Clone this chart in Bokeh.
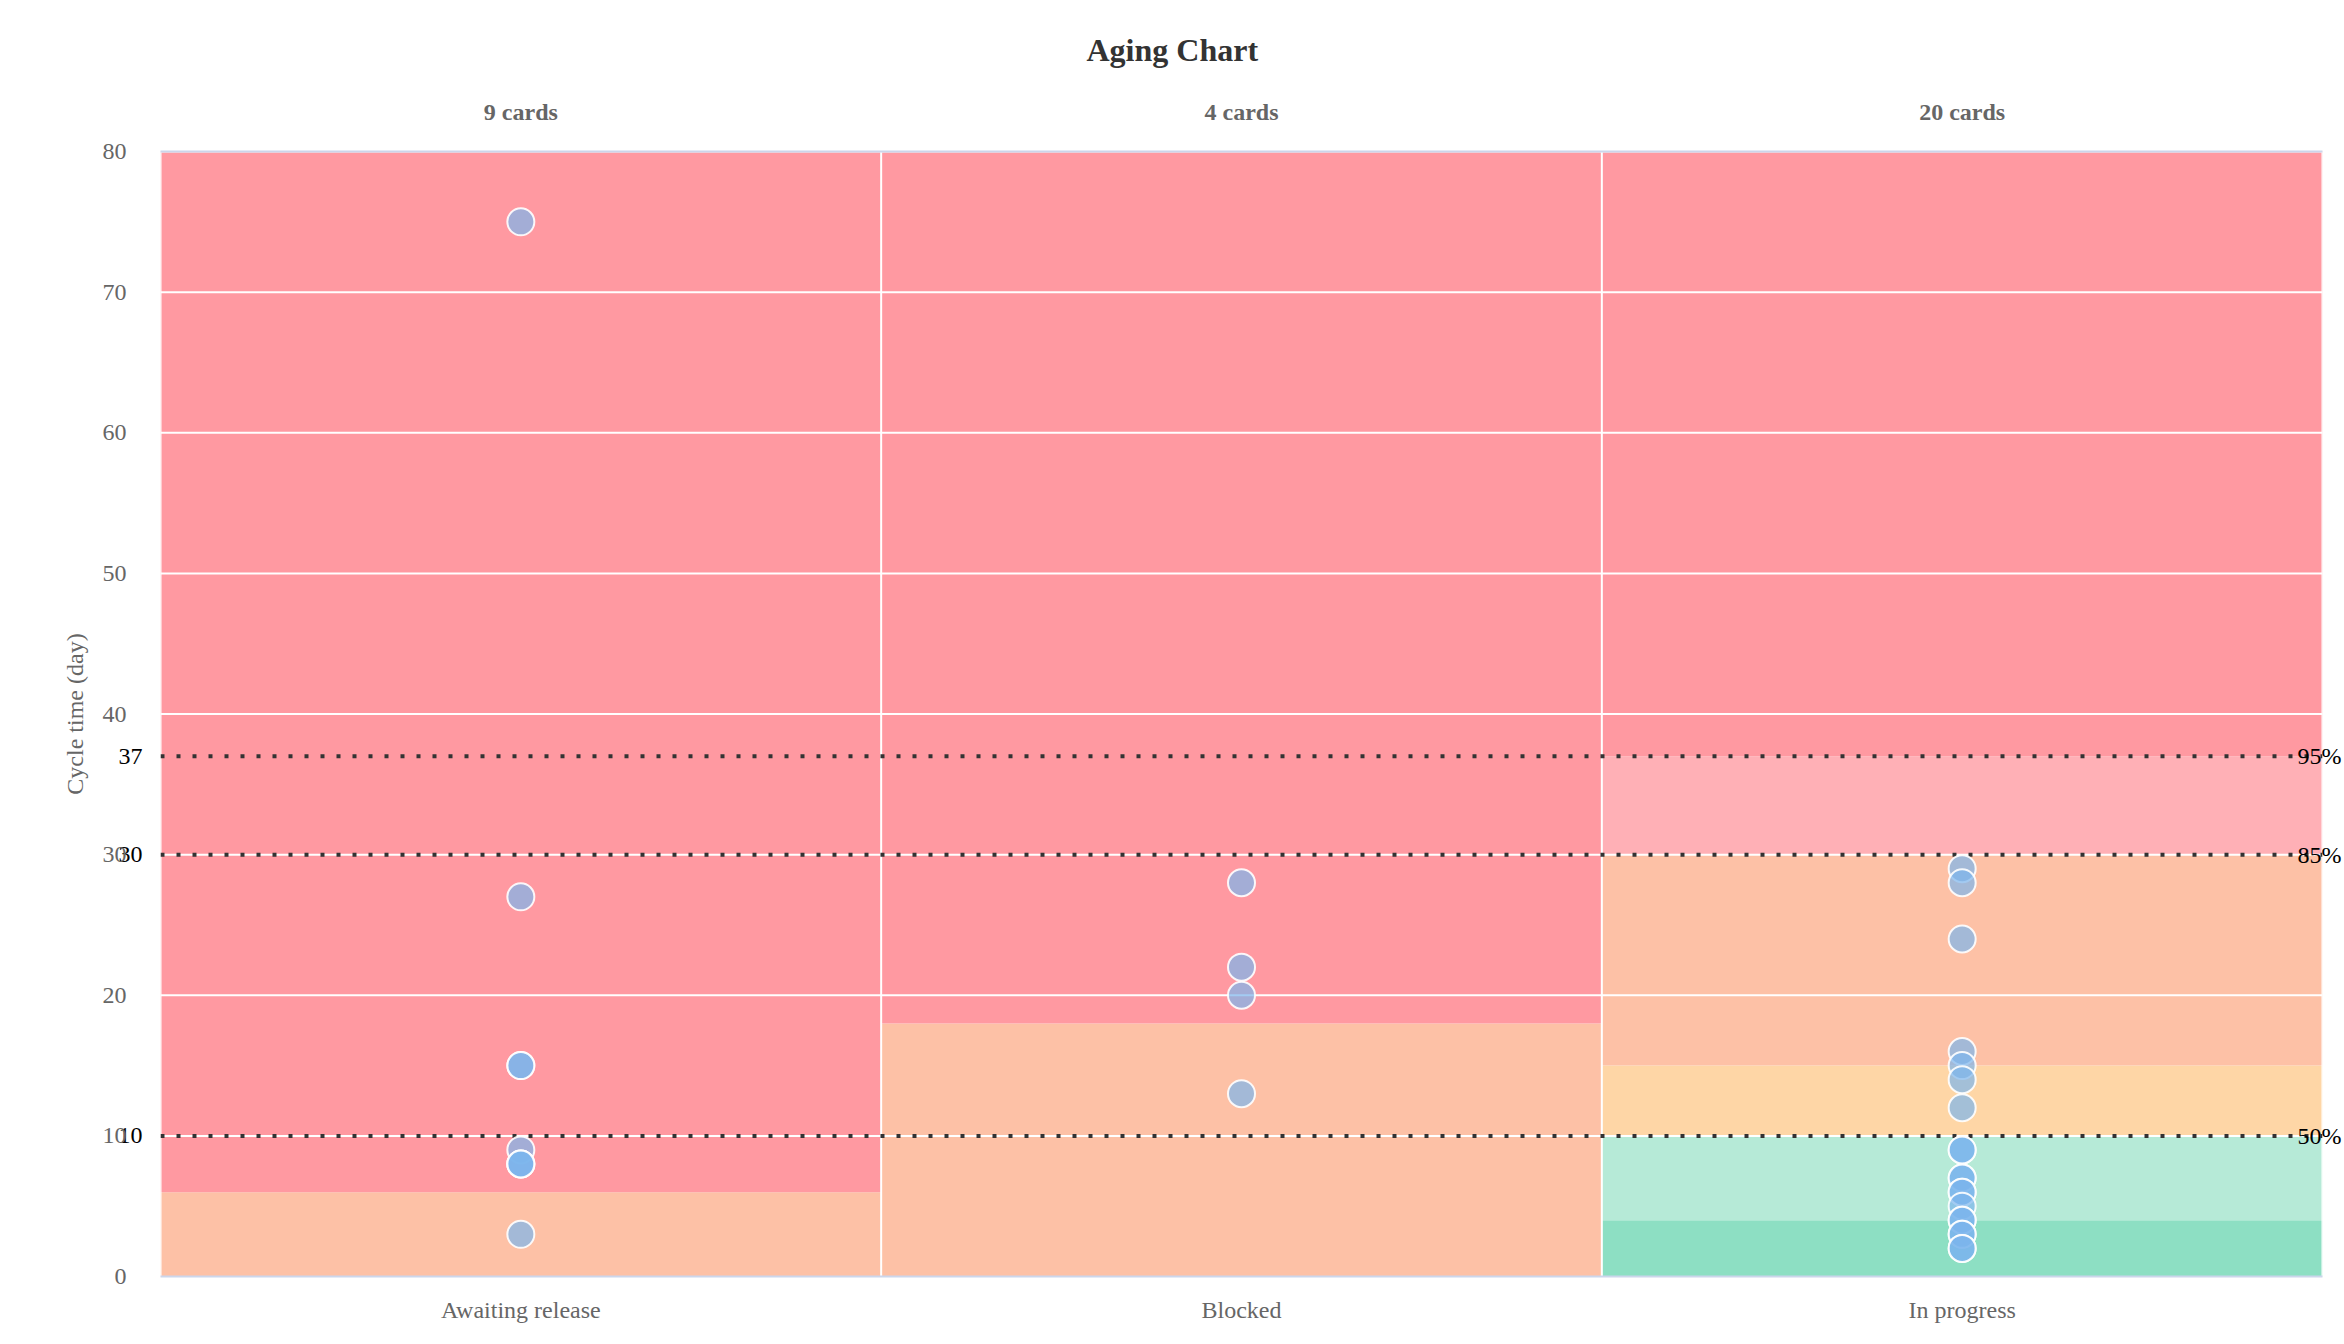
from bokeh.plotting import figure
from bokeh.models import Range1d, FactorRange, CategoricalAxis, LinearAxis, FixedTicker
from bokeh.embed import file_html
from bokeh.resources import INLINE

# ---------------- data ----------------
chart_title = "Aging Chart"
categories = ["Awaiting release", "Blocked", "In progress"]
awaiting_days = [75, 27, 15, 15, 9, 8, 8, 8, 3]
blocked_days = [28, 22, 20, 13]
in_progress_days = [29, 28, 24, 16, 15, 14, 12, 9, 9, 7, 7, 6, 6, 5, 4, 4, 3, 3, 2, 2]

band_category = ["Awaiting release", "Awaiting release",
                 "Blocked", "Blocked",
                 "In progress", "In progress", "In progress", "In progress", "In progress", "In progress"]
band_bottom = [0, 6, 0, 18, 0, 4, 10, 15, 30, 37]
band_top = [6, 80, 18, 80, 4, 10, 15, 30, 37, 80]
band_level = ["warn", "late", "warn", "late", "fast", "ok", "mid", "warn", "risk", "late"]

percentile_values = [37, 30, 10]
percentile_labels = ["95%", "85%", "50%"]

y_ticks = [0, 10, 20, 30, 40, 50, 60, 70, 80]
y_max = 80

# ---------------- style / layout ----------------
palette = {"late": "#ff99a1", "risk": "#ffb0b6", "warn": "#fdc1a6",
           "mid": "#fed6a6", "ok": "#b6ead7", "fast": "#8ddfc3"}
FONT = "Liberation Serif"

all_cats = (["Awaiting release"] * len(awaiting_days) + ["Blocked"] * len(blocked_days)
            + ["In progress"] * len(in_progress_days))
all_days = awaiting_days + blocked_days + in_progress_days
card_labels = [f"{len(d)} cards" for d in (awaiting_days, blocked_days, in_progress_days)]

p = figure(width=2344, height=1344, output_backend="svg", toolbar_location=None,
           x_range=FactorRange(*categories, range_padding=0), y_range=Range1d(0, y_max),
           min_border_left=160, min_border_right=21, min_border_top=151, min_border_bottom=68)
p.extra_x_ranges = {"cards": FactorRange(*card_labels, range_padding=0)}
p.outline_line_color = None
p.background_fill_color = "white"
p.border_fill_color = "white"
p.xgrid.visible = False
p.ygrid.visible = False

# title
p.title.text = chart_title
p.title.align = "left"
p.title.offset = 926
p.title.vertical_align = "middle"
p.title.standoff = 54
p.title.text_font = FONT
p.title.text_font_size = "32px"
p.title.text_font_style = "bold"
p.title.text_color = "#333333"

# bands
p.vbar(x=band_category, bottom=band_bottom, top=band_top, width=1.0,
       fill_color=[palette[k] for k in band_level], line_color=None)

# grid lines (white, above bands)
n = len(categories)
grid_vals = [t for t in y_ticks if t > 0]
p.segment(x0=[0] * len(grid_vals), x1=[n] * len(grid_vals), y0=grid_vals, y1=grid_vals,
          line_color="white", line_width=2)
p.segment(x0=list(range(n + 1)), x1=list(range(n + 1)), y0=[0] * (n + 1), y1=[y_max] * (n + 1),
          line_color="white", line_width=2)

# percentile lines
p.segment(x0=[0] * len(percentile_values), x1=[n] * len(percentile_values),
          y0=percentile_values, y1=percentile_values,
          line_color="#333333", line_width=4, line_dash="4 12")

# cards
p.scatter(x=all_cats, y=all_days, size=27, fill_color="#7cb5ec", fill_alpha=0.7,
          line_color="white", line_width=2, line_alpha=0.9)


def style_axis(ax, color, standoff):
    ax.axis_line_color = None
    ax.major_tick_line_color = None
    ax.minor_tick_line_color = None
    ax.major_tick_out = 0
    ax.major_tick_in = 0
    ax.major_label_standoff = standoff
    ax.major_label_text_font = FONT
    ax.major_label_text_font_size = "24px"
    ax.major_label_text_color = color


# inner left axis: percentile values (black)
pax = p.yaxis[0]
pax.ticker = FixedTicker(ticks=percentile_values)
style_axis(pax, "black", 18)

# outer left axis: main cycle time ticks (gray)
yax = LinearAxis(ticker=FixedTicker(ticks=y_ticks))
style_axis(yax, "#666666", -11)
yax.axis_label = "Cycle time (day)"
yax.axis_label_text_font = FONT
yax.axis_label_text_font_size = "24px"
yax.axis_label_text_font_style = "normal"
yax.axis_label_text_color = "#666666"
yax.axis_label_standoff = 12
p.add_layout(yax, "left")

# right axis: percentile names
rax = LinearAxis(ticker=FixedTicker(ticks=percentile_values),
                 major_label_overrides={v: lab for v, lab in zip(percentile_values, percentile_labels)})
style_axis(rax, "black", -25)
p.add_layout(rax, "right")

# bottom categories
xax = p.xaxis[0]
style_axis(xax, "#666666", 20)
xax.axis_line_color = "#ccd6eb"
xax.axis_line_width = 2

# top: card counts
top = CategoricalAxis(x_range_name="cards")
style_axis(top, "#666666", 27)
top.axis_line_color = "#ccd6eb"
top.axis_line_width = 2
top.major_label_text_font_style = "bold"
p.add_layout(top, "above")

open("out.html", "w").write(file_html(p, INLINE))
